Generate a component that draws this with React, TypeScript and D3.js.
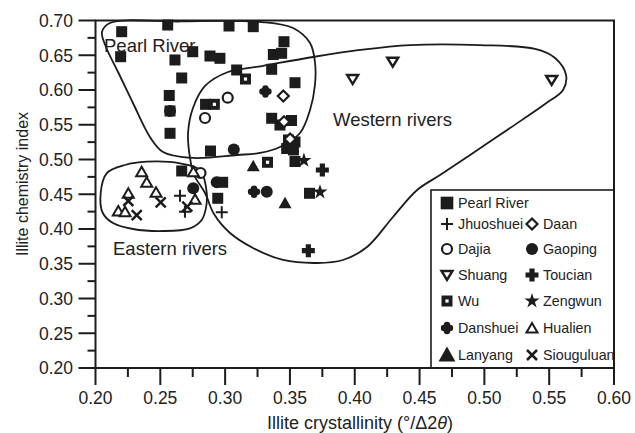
import React from "react";
import * as d3 from "d3";

// ---------- data ----------
type Pt = [number, number];

const pearlRiver: Pt[] = [
  [0.2202, 0.6839], [0.2194, 0.6479], [0.2557, 0.6935], [0.303, 0.6921], [0.3217, 0.6911],
  [0.2613, 0.6432], [0.275, 0.6551], [0.2883, 0.6489], [0.296, 0.6456], [0.3089, 0.6288],
  [0.3359, 0.6298], [0.3372, 0.6511], [0.3436, 0.6528], [0.3454, 0.6695], [0.2665, 0.6173],
  [0.3539, 0.6105], [0.2569, 0.5921], [0.2575, 0.5698], [0.2849, 0.5794], [0.2575, 0.5377],
  [0.3359, 0.5593], [0.3423, 0.5496], [0.3512, 0.5561], [0.3489, 0.5281], [0.3475, 0.5158],
  [0.3539, 0.5252], [0.3527, 0.5137], [0.2887, 0.5122], [0.3539, 0.4971], [0.2665, 0.4835],
  [0.2981, 0.4672], [0.2943, 0.4442], [0.3651, 0.4514],
];
const jhuoshuei: Pt[] = [[0.2652, 0.4479], [0.269, 0.4249], [0.2974, 0.424]];
const daan: Pt[] = [[0.3449, 0.5914], [0.3454, 0.5544], [0.3501, 0.5295]];
const dajia: Pt[] = [[0.302, 0.5889], [0.2845, 0.5597], [0.281, 0.4806]];
const gaoping: Pt[] = [[0.3067, 0.5144], [0.2754, 0.4586], [0.2935, 0.4672], [0.3321, 0.4537], [0.2575, 0.5698]];
const shuang: Pt[] = [[0.3984, 0.6158], [0.4293, 0.6407], [0.5519, 0.6144]];
const toucian: Pt[] = [[0.375, 0.4849], [0.3642, 0.3688]];
const wu: Pt[] = [[0.3157, 0.6158], [0.2917, 0.5794], [0.3327, 0.496]];
const zengwun: Pt[] = [[0.3608, 0.4986], [0.3732, 0.4532]];
const danshuei: Pt[] = [[0.3311, 0.5978], [0.3223, 0.4537]];
const hualien: Pt[] = [
  [0.2356, 0.4824], [0.2395, 0.4672], [0.2467, 0.4528], [0.2253, 0.4514], [0.2176, 0.4259],
  [0.2228, 0.4249], [0.2768, 0.4427], [0.2755, 0.4824],
];
const lanyang: Pt[] = [[0.3217, 0.4902], [0.3462, 0.437]];
const siouguluan: Pt[] = [[0.2253, 0.4403], [0.2318, 0.4201], [0.2503, 0.4384], [0.2708, 0.4321]];

const pearlOutline: Pt[] = [
  [0.2112, 0.6964], [0.2652, 0.6986], [0.3284, 0.6978], [0.3524, 0.6892], [0.3655, 0.6676],
  [0.3693, 0.6403], [0.3693, 0.6072], [0.3655, 0.5712], [0.3578, 0.5381], [0.3423, 0.518],
  [0.3269, 0.5094], [0.3092, 0.5065], [0.2752, 0.5022], [0.2521, 0.5108], [0.242, 0.5324],
  [0.2289, 0.5813], [0.2174, 0.6259], [0.2081, 0.6619], [0.205, 0.6835],
];
const easternOutline: Pt[] = [
  [0.2086, 0.4801], [0.2228, 0.4921], [0.2395, 0.4968], [0.2652, 0.4945], [0.2806, 0.4849],
  [0.2852, 0.4609], [0.2858, 0.4374], [0.2819, 0.4129], [0.2729, 0.401], [0.2521, 0.3971],
  [0.2289, 0.4], [0.2135, 0.4086], [0.2056, 0.423], [0.204, 0.4518],
];
const westernOutline: Pt[] = [
  [0.276, 0.4777], [0.2845, 0.4518], [0.2914, 0.4216], [0.3038, 0.3942], [0.3215, 0.3727],
  [0.3447, 0.3554], [0.3709, 0.3511], [0.3909, 0.3554], [0.4095, 0.3741], [0.4295, 0.4173],
  [0.4481, 0.4561], [0.4658, 0.4777], [0.489, 0.5065], [0.5198, 0.5453], [0.5468, 0.5799],
  [0.5607, 0.6], [0.563, 0.6216], [0.5545, 0.646], [0.5391, 0.659], [0.4966, 0.6647],
  [0.4426, 0.6647], [0.404, 0.6576], [0.3678, 0.6475], [0.3285, 0.6345], [0.3022, 0.6259],
  [0.2845, 0.6058], [0.2752, 0.5741], [0.2714, 0.5381], [0.2729, 0.5022],
];

const xTicks = [0.2, 0.25, 0.3, 0.35, 0.4, 0.45, 0.5, 0.55, 0.6];
const yTicks = [0.2, 0.25, 0.3, 0.35, 0.4, 0.45, 0.5, 0.55, 0.6, 0.65, 0.7];

type Sym =
  | "square" | "plus" | "diamond" | "circleOpen" | "circleFilled" | "triDown"
  | "heavyCross" | "wu" | "star" | "quatrefoil" | "triUp" | "triFilled" | "cross";

const series: { name: string; sym: Sym; pts: Pt[] }[] = [
  { name: "Pearl River", sym: "square", pts: pearlRiver },
  { name: "Jhuoshuei", sym: "plus", pts: jhuoshuei },
  { name: "Daan", sym: "diamond", pts: daan },
  { name: "Dajia", sym: "circleOpen", pts: dajia },
  { name: "Gaoping", sym: "circleFilled", pts: gaoping },
  { name: "Shuang", sym: "triDown", pts: shuang },
  { name: "Toucian", sym: "heavyCross", pts: toucian },
  { name: "Wu", sym: "wu", pts: wu },
  { name: "Zengwun", sym: "star", pts: zengwun },
  { name: "Danshuei", sym: "quatrefoil", pts: danshuei },
  { name: "Hualien", sym: "triUp", pts: hualien },
  { name: "Lanyang", sym: "triFilled", pts: lanyang },
  { name: "Siouguluan", sym: "cross", pts: siouguluan },
];

// legend layout: [series index, column, row]
const legendSlots: [number, number, number][] = [
  [0, 0, 0], [1, 0, 1], [2, 1, 1], [3, 0, 2], [4, 1, 2], [5, 0, 3], [6, 1, 3],
  [7, 0, 4], [8, 1, 4], [9, 0, 5], [10, 1, 5], [11, 0, 6], [12, 1, 6],
];

// ---------- drawing ----------
const INK = "#1c1c1c";
const TEXT = "#222";
const FONT = "'Liberation Sans', Arial, Helvetica, sans-serif";

const L = 95.5, R = 614, T = 20.5, B = 368;
const x = d3.scaleLinear().domain([0.2, 0.6]).range([L, R]);
const y = d3.scaleLinear().domain([0.2, 0.7]).range([B, T]);

const starPath = d3.symbol(d3.symbolStar, 70)() as string;

function Marker({ sym, cx, cy, big = false }: { sym: Sym; cx: number; cy: number; big?: boolean }) {
  const k = big ? 1.15 : 1;
  switch (sym) {
    case "square":
      return <rect x={cx - 5.5 * k} y={cy - 5.5 * k} width={11 * k} height={11 * k} fill={INK} />;
    case "plus":
      return <path d={`M${cx - 6},${cy}H${cx + 6}M${cx},${cy - 6}V${cy + 6}`} stroke={INK} strokeWidth={2} fill="none" />;
    case "diamond":
      return <path d={`M${cx},${cy - 5.5}L${cx + 5.5},${cy}L${cx},${cy + 5.5}L${cx - 5.5},${cy}Z`} fill="#fff" stroke={INK} strokeWidth={2.2} />;
    case "circleOpen":
      return <circle cx={cx} cy={cy} r={5} fill="#fff" stroke={INK} strokeWidth={2.2} />;
    case "circleFilled":
      return <circle cx={cx} cy={cy} r={6} fill={INK} />;
    case "triDown":
      return <path d={`M${cx - 5.5},${cy - 4}L${cx + 5.5},${cy - 4}L${cx},${cy + 5}Z`} fill="#fff" stroke={INK} strokeWidth={2.4} strokeLinejoin="miter" />;
    case "heavyCross": {
      const a = 2.6, b = 6.5;
      return (
        <path
          d={`M${cx - a},${cy - b}H${cx + a}V${cy - a}H${cx + b}V${cy + a}H${cx + a}V${cy + b}H${cx - a}V${cy + a}H${cx - b}V${cy - a}H${cx - a}Z`}
          fill={INK}
        />
      );
    }
    case "wu":
      return (
        <g>
          <rect x={cx - 5.5} y={cy - 5.5} width={11} height={11} fill={INK} />
          <rect x={cx - 1.6} y={cy - 1.6} width={3.2} height={3.2} fill="#fff" />
        </g>
      );
    case "star":
      return <path d={starPath} transform={`translate(${cx},${cy})`} fill={INK} />;
    case "quatrefoil":
      return (
        <g fill={INK}>
          <circle cx={cx - 3} cy={cy} r={3.2} />
          <circle cx={cx + 3} cy={cy} r={3.2} />
          <circle cx={cx} cy={cy - 3} r={3.2} />
          <circle cx={cx} cy={cy + 3} r={3.2} />
          <rect x={cx - 3} y={cy - 3} width={6} height={6} />
        </g>
      );
    case "triUp":
      return <path d={`M${cx},${cy - 5}L${cx + 5.5},${cy + 4.5}L${cx - 5.5},${cy + 4.5}Z`} fill="#fff" stroke={INK} strokeWidth={2} />;
    case "triFilled": {
      const s = big ? 1.3 : 1;
      return <path d={`M${cx},${cy - 6.5 * s}L${cx + 6.5 * s},${cy + 5 * s}L${cx - 6.5 * s},${cy + 5 * s}Z`} fill={INK} />;
    }
    case "cross":
      return <path d={`M${cx - 5},${cy - 5}L${cx + 5},${cy + 5}M${cx + 5},${cy - 5}L${cx - 5},${cy + 5}`} stroke={INK} strokeWidth={2.5} fill="none" />;
  }
  return null;
}

const outline = d3
  .line<Pt>()
  .x((d) => x(d[0]))
  .y((d) => y(d[1]))
  .curve(d3.curveCatmullRomClosed.alpha(0.5));

export default function App() {
  const minorX = d3.range(0, 8).map((i) => 0.225 + i * 0.05);
  const minorY = d3.range(0, 10).map((i) => 0.225 + i * 0.05);
  const legX = [447, 532];
  const legY = [203, 224, 249, 275, 301, 328, 355];
  return (
    <svg width={635} height={433} style={{ display: "block", position: "absolute", left: 0, top: 0, background: "#fff" }} fontFamily={FONT}>
      <rect x={0} y={0} width={635} height={433} fill="#fff" />
      {/* region outlines */}
      {[pearlOutline, easternOutline, westernOutline].map((o, i) => (
        <path key={i} d={outline(o) as string} fill="none" stroke={INK} strokeWidth={1.8} />
      ))}
      {/* points */}
      {series.map((s) =>
        s.pts.map((p, j) => <Marker key={s.name + j} sym={s.sym} cx={x(p[0])} cy={y(p[1])} />)
      )}
      {/* region labels */}
      <text x={104} y={52} fontSize={18.5} fill={TEXT}>Pearl River</text>
      <text x={333} y={126} fontSize={18.5} fill={TEXT}>Western rivers</text>
      <text x={113} y={255} fontSize={18.5} fill={TEXT}>Eastern rivers</text>
      {/* legend */}
      <rect x={431} y={190} width={R - 431} height={B - 190} fill="#fff" stroke={INK} strokeWidth={1.6} />
      {legendSlots.map(([si, c, r]) => {
        const s = series[si];
        return (
          <g key={s.name}>
            <Marker sym={s.sym} cx={legX[c]} cy={legY[r]} big />
            <text x={legX[c] + 11} y={legY[r] + 5} fontSize={14.3} fill={TEXT}>{s.name}</text>
          </g>
        );
      })}
      {/* frame */}
      <rect x={L} y={T} width={R - L} height={B - T} fill="none" stroke={INK} strokeWidth={2} />
      {/* ticks */}
      {yTicks.map((t) => (
        <g key={"y" + t}>
          <line x1={L - 17} x2={L} y1={y(t)} y2={y(t)} stroke={INK} strokeWidth={2} />
          <text x={73} y={y(t) + 6.3} textAnchor="end" fontSize={17.5} fill={TEXT}>{t.toFixed(2)}</text>
        </g>
      ))}
      {minorY.map((t) => (
        <line key={"my" + t} x1={L - 8} x2={L} y1={y(t)} y2={y(t)} stroke={INK} strokeWidth={2} />
      ))}
      {xTicks.map((t) => (
        <g key={"x" + t}>
          <line x1={x(t)} x2={x(t)} y1={B} y2={B + 17} stroke={INK} strokeWidth={2} />
          <text x={x(t)} y={404} textAnchor="middle" fontSize={17.5} fill={TEXT}>{t.toFixed(2)}</text>
        </g>
      ))}
      {minorX.map((t) => (
        <line key={"mx" + t} x1={x(t)} x2={x(t)} y1={B} y2={B + 9} stroke={INK} strokeWidth={2} />
      ))}
      {/* axis titles */}
      <text x={360} y={429} textAnchor="middle" fontSize={18} fill={TEXT}>
        Illite crystallinity (°/Δ2<tspan fontStyle="italic">θ</tspan>)
      </text>
      <text transform="translate(28,184) rotate(-90)" textAnchor="middle" fontSize={16} fill={TEXT}>
        Illite chemistry index
      </text>
    </svg>
  );
}
